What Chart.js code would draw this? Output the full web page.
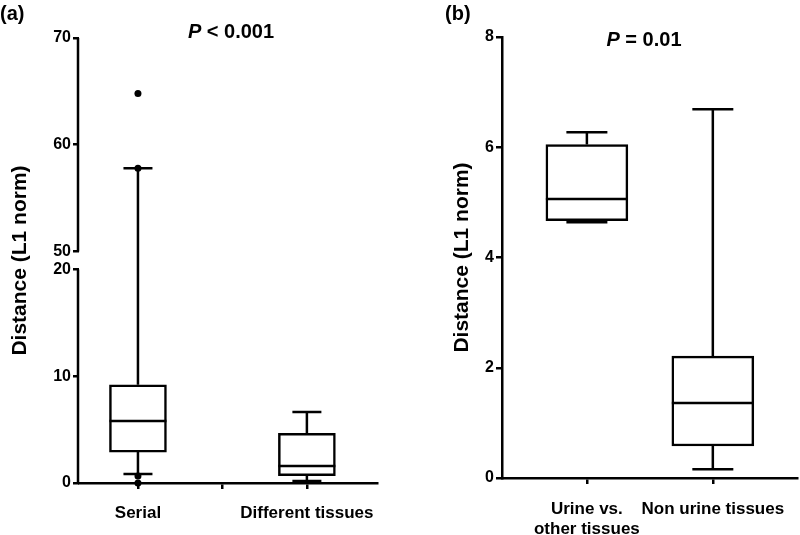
<!DOCTYPE html>
<html lang="en">
<head>
<meta charset="UTF-8">
<title>Distance (L1 norm) box plots</title>
<script src="https://cdn.jsdelivr.net/npm/chart.js"></script>
<style>
  body { margin: 0; background: #fff; font-family: 'Liberation Sans', Arial, sans-serif; }
  #wrap { position: relative; width: 800px; height: 535px; }
  .panel { position: absolute; top: 0; width: 400px; height: 535px; }
  .lbl { position: absolute; font-weight: bold; font-size: 20px; line-height: 20px; color: #000; white-space: nowrap; }
  .ctr { transform: translateX(-50%); }
</style>
</head>
<body>
<div id="wrap">
  <div class="panel" style="left:0"><canvas id="chartA" width="400" height="535"></canvas></div>
  <div class="panel" style="left:400px"><canvas id="chartB" width="400" height="535"></canvas></div>
  <div class="lbl" style="left:0;top:3px">(a)</div>
  <div class="lbl" style="left:445px;top:3px">(b)</div>
  <div class="lbl ctr" style="left:231px;top:21px"><i>P</i> &lt; 0.001</div>
  <div class="lbl ctr" style="left:644px;top:29px"><i>P</i> = 0.01</div>
</div>
<script>
// panel (a)
const leftGroups = ['Serial', 'Different tissues'];
const leftMin = [0.85, 0.18];
const leftQ1 = [2.9, 0.68];
const leftMedian = [5.8, 1.6];
const leftQ3 = [9.2, 4.65];
const leftMax = [57.8, 6.65];
const leftOutliers = [[64.8, 57.8, 0.65, 0], []];
const leftTicks = [0, 10, 20, 50, 60, 70];

// panel (b)
const rightGroups = [['Urine vs.', 'other tissues'], 'Non urine tissues'];
const rightMin = [4.64, 0.16];
const rightQ1 = [4.67, 0.58];
const rightMedian = [5.06, 1.36];
const rightQ3 = [6.05, 2.21];
const rightMax = [6.27, 6.69];
const rightTicks = [0, 2, 4, 6, 8];

// broken axis on (a): 20..50 is cut out
const GAP = 1.7;
function brk(v) { return v <= 20 ? v : v - 50 + 20 + GAP; }
function same(v) { return v; }

const LW = 2.5;

Chart.defaults.font.family = "'Liberation Sans', Arial, sans-serif";
Chart.defaults.font.weight = 'bold';
Chart.defaults.color = '#000';

function whiskers(s) {
  return {
    id: 'whiskers',
    afterDatasetsDraw(chart) {
      const x = chart.scales.x, y = chart.scales.y, ctx = chart.ctx;
      const py = v => y.getPixelForValue(s.map(v));
      ctx.save();
      ctx.strokeStyle = '#000';
      ctx.lineWidth = LW;
      s.med.forEach((m, i) => {
        const cx = x.getPixelForValue(i);
        ctx.beginPath();
        ctx.moveTo(cx, py(s.q3[i])); ctx.lineTo(cx, py(s.max[i]));
        ctx.moveTo(cx, py(s.q1[i])); ctx.lineTo(cx, py(s.min[i]));
        ctx.moveTo(cx - s.cap / 2, py(s.max[i])); ctx.lineTo(cx + s.cap / 2, py(s.max[i]));
        ctx.moveTo(cx - s.cap / 2, py(s.min[i])); ctx.lineTo(cx + s.cap / 2, py(s.min[i]));
        ctx.moveTo(cx - s.box / 2, py(m)); ctx.lineTo(cx + s.box / 2, py(m));
        ctx.stroke();
      });
      ctx.restore();
    }
  };
}

const brokenAxis = {
  id: 'brokenAxis',
  afterDraw(chart) {
    const y = chart.scales.y, ctx = chart.ctx;
    const x0 = Math.round(chart.chartArea.left) - 1;
    ctx.save();
    ctx.strokeStyle = '#000';
    ctx.lineWidth = LW;
    ctx.beginPath();
    ctx.moveTo(x0, chart.chartArea.bottom + 1);
    ctx.lineTo(x0, y.getPixelForValue(brk(20)));
    ctx.moveTo(x0, y.getPixelForValue(brk(50)));
    ctx.lineTo(x0, y.getPixelForValue(brk(70)));
    ctx.stroke();
    ctx.restore();
  }
};

function gridOpts() {
  return { offset: false, drawOnChartArea: false, drawTicks: true, tickLength: 6, tickColor: '#000', tickWidth: LW, color: '#000', lineWidth: LW };
}

function makeChart(id, o) {
  const boxes = o.groups.map((g, i) => ({ x: i, y: [o.map(o.q1[i]), o.map(o.q3[i])] }));
  const pts = [];
  (o.outliers || []).forEach((list, i) => list.forEach(v => pts.push({ x: i, y: o.map(v) })));
  const plugins = [whiskers({ map: o.map, min: o.min, q1: o.q1, med: o.med, q3: o.q3, max: o.max, cap: o.cap, box: o.box })];
  if (o.broken) plugins.push(brokenAxis);
  return new Chart(document.getElementById(id), {
    type: 'bar',
    data: {
      datasets: [
        {
          data: boxes,
          backgroundColor: '#fff',
          borderColor: '#000',
          borderWidth: LW,
          borderSkipped: false,
          barThickness: o.box
        },
        {
          type: 'scatter',
          data: pts,
          pointRadius: 3.5,
          pointBackgroundColor: '#000',
          pointBorderWidth: 0,
          clip: false
        }
      ]
    },
    options: {
      responsive: false,
      animation: false,
      layout: { padding: o.pad },
      plugins: { legend: { display: false }, tooltip: { enabled: false } },
      scales: {
        x: {
          type: 'linear',
          offset: false,
          bounds: 'data',
          min: o.xmin,
          max: o.xmax,
          afterBuildTicks: s => { s.ticks = o.xticks.map(v => ({ value: v })); },
          afterFit: s => { s.height = o.xh; },
          grid: gridOpts(),
          border: { display: true, color: '#000', width: LW },
          ticks: {
            autoSkip: false, maxRotation: 0, minRotation: 0,
            padding: o.xpad,
            font: { size: 17, weight: 'bold' },
            callback: v => Number.isInteger(v) ? o.groups[v] : ''
          }
        },
        y: {
          type: 'linear',
          offset: false,
          bounds: 'data',
          min: 0,
          max: o.map(o.ticks[o.ticks.length - 1]),
          afterBuildTicks: s => { s.ticks = o.ticks.map(v => ({ value: o.map(v) })); },
          afterFit: s => { s.width = o.yw; },
          grid: gridOpts(),
          border: { display: !o.broken, color: '#000', width: LW },
          ticks: {
            padding: 2,
            font: { size: 16, weight: 'bold' },
            callback: (v, i) => o.ticks[i]
          },
          title: {
            display: true,
            text: 'Distance (L1 norm)',
            font: { size: 21, weight: 'bold' },
            padding: { top: 8, bottom: 0 }
          }
        }
      }
    },
    plugins: plugins
  });
}

makeChart('chartA', {
  groups: leftGroups, min: leftMin, q1: leftQ1, med: leftMedian, q3: leftQ3, max: leftMax,
  outliers: leftOutliers, ticks: leftTicks, map: brk, broken: true,
  xmin: -0.349, xmax: 1.415, xticks: [0, 0.5, 1],
  box: 57, cap: 29, yw: 79, xh: 52, xpad: 14,
  pad: { top: 38, left: 0, right: 23, bottom: 0 }
});

makeChart('chartB', {
  groups: rightGroups, min: rightMin, q1: rightQ1, med: rightMedian, q3: rightQ3, max: rightMax,
  outliers: [], ticks: rightTicks, map: same, broken: false,
  xmin: -0.674, xmax: 1.667, xticks: [0, 1],
  box: 82, cap: 41, yw: 60, xh: 57, xpad: 15,
  pad: { top: 37, left: 42, right: 3, bottom: 0 }
});
</script>
</body>
</html>
